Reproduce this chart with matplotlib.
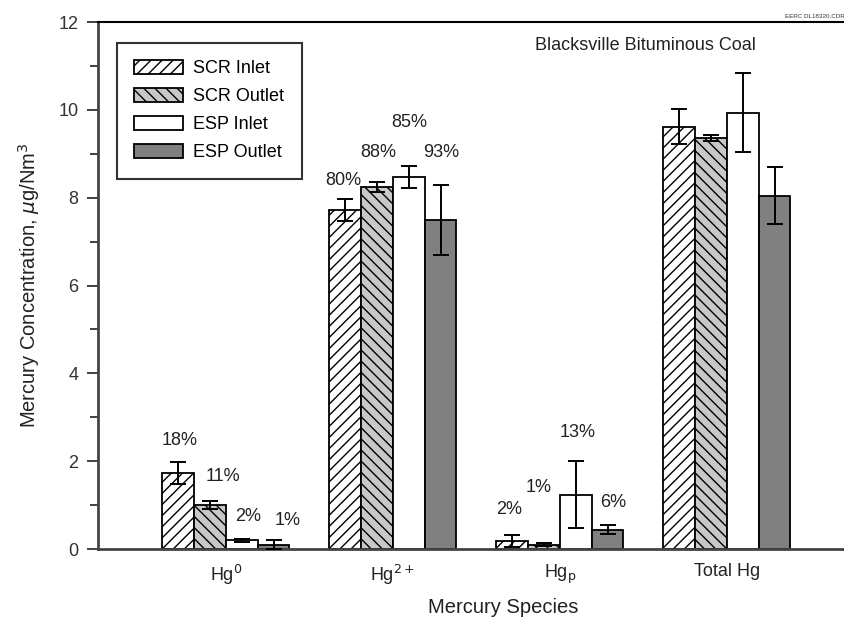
import matplotlib
matplotlib.use("Agg")
import matplotlib.pyplot as plt
import numpy as np
from matplotlib.patches import Patch
from matplotlib.ticker import MultipleLocator

plt.rcParams['font.family'] = ['Liberation Sans', 'DejaVu Sans']
plt.rcParams['hatch.linewidth'] = 1.0

species = ['Hg$^{0}$', 'Hg$^{2+}$', 'Hg$_{\\rm p}$', 'Total Hg']
series = ['SCR Inlet', 'SCR Outlet', 'ESP Inlet', 'ESP Outlet']

scr_inlet = [1.73, 7.72, 0.18, 9.62]
scr_outlet = [1.00, 8.24, 0.10, 9.36]
esp_inlet = [0.20, 8.47, 1.24, 9.93]
esp_outlet = [0.10, 7.50, 0.44, 8.04]

scr_inlet_err = [0.25, 0.25, 0.13, 0.40]
scr_outlet_err = [0.10, 0.12, 0.03, 0.07]
esp_inlet_err = [0.03, 0.25, 0.76, 0.90]
esp_outlet_err = [0.10, 0.80, 0.10, 0.65]

# percent labels per species (one per series)
pct_labels = [
    ['18%', '11%', '2%', '1%'],
    ['80%', '88%', '85%', '93%'],
    ['2%', '1%', '13%', '6%'],
]
pct_y = [
    [2.48, 1.64, 0.73, 0.66],
    [8.40, 9.02, 9.72, 9.02],
    [0.89, 1.39, 2.66, 1.07],
]
pct_dx = [
    [-0.275, -0.02, 0.13, 0.37],
    [-0.30, -0.09, 0.096, 0.29],
    [-0.305, -0.126, 0.108, 0.32],
]

values = [scr_inlet, scr_outlet, esp_inlet, esp_outlet]
errors = [scr_inlet_err, scr_outlet_err, esp_inlet_err, esp_outlet_err]
faces = ['white', '#c8c8c8', 'white', '#808080']
hatches = ['///', '\\\\\\', '', '']

fig = plt.figure(figsize=(8.45, 6.35), dpi=100)
ax = fig.add_axes([0.116, 0.1354, 0.884, 0.8299])

x = np.arange(len(species))
w = 0.19
for i in range(4):
    ax.bar(x + (i - 1.5) * w, values[i], width=w, color=faces[i], hatch=hatches[i],
           edgecolor='black', linewidth=1.3, label=series[i], zorder=2)
    ax.errorbar(x + (i - 1.5) * w, values[i], yerr=errors[i], fmt='none',
                ecolor='black', elinewidth=1.4, capsize=5.5, capthick=1.4, zorder=3)

for g in range(len(pct_labels)):
    for i in range(4):
        ax.text(x[g] + pct_dx[g][i], pct_y[g][i], pct_labels[g][i], ha='center',
                va='center', fontsize=13, color='#222222')

ax.set_xlim(-0.766, 3.707)
ax.set_ylim(0, 12)
ax.yaxis.set_major_locator(MultipleLocator(2))
ax.yaxis.set_minor_locator(MultipleLocator(1))
ax.tick_params(axis='y', which='major', length=8, width=1.3, labelsize=13, colors='#333333', pad=6)
ax.tick_params(axis='y', which='minor', length=6, width=1.3, colors='#333333')
ax.set_xticks(x)
ax.set_xticklabels(species, fontsize=13, color='#222222')
ax.tick_params(axis='x', length=0, pad=10)

for s in ['left', 'bottom']:
    ax.spines[s].set_linewidth(2.0)
    ax.spines[s].set_color('#444444')
ax.spines['top'].set_linewidth(1.5)
ax.spines['top'].set_color('black')
ax.spines['right'].set_visible(False)

ax.set_ylabel('Mercury Concentration, $\\mu$g/Nm$^3$', fontsize=14.5, color='#222222', labelpad=12)
ax.set_xlabel('Mercury Species', fontsize=14.5, color='#222222')
ax.xaxis.set_label_coords(0.543, -0.092)

ax.text(0.7335, 0.956, 'Blacksville Bituminous Coal', transform=ax.transAxes,
        ha='center', va='center', fontsize=13, color='#222222')
ax.text(0.999, 1.006, 'EERC DL18320.CDR', transform=ax.transAxes, ha='right',
        va='bottom', fontsize=4.5, color='#333333')

handles = [Patch(facecolor=faces[i], hatch=hatches[i], edgecolor='black', linewidth=1.3)
           for i in range(4)]
leg = ax.legend(handles, series, loc='upper left', bbox_to_anchor=(0.025, 0.96),
                borderaxespad=0, fontsize=13, frameon=True, fancybox=False,
                edgecolor='black', handlelength=2.7, handleheight=0.8,
                labelspacing=0.6, borderpad=0.95, handletextpad=0.6)
leg.get_frame().set_linewidth(1.5)

fig.savefig('out.png', dpi=100)
